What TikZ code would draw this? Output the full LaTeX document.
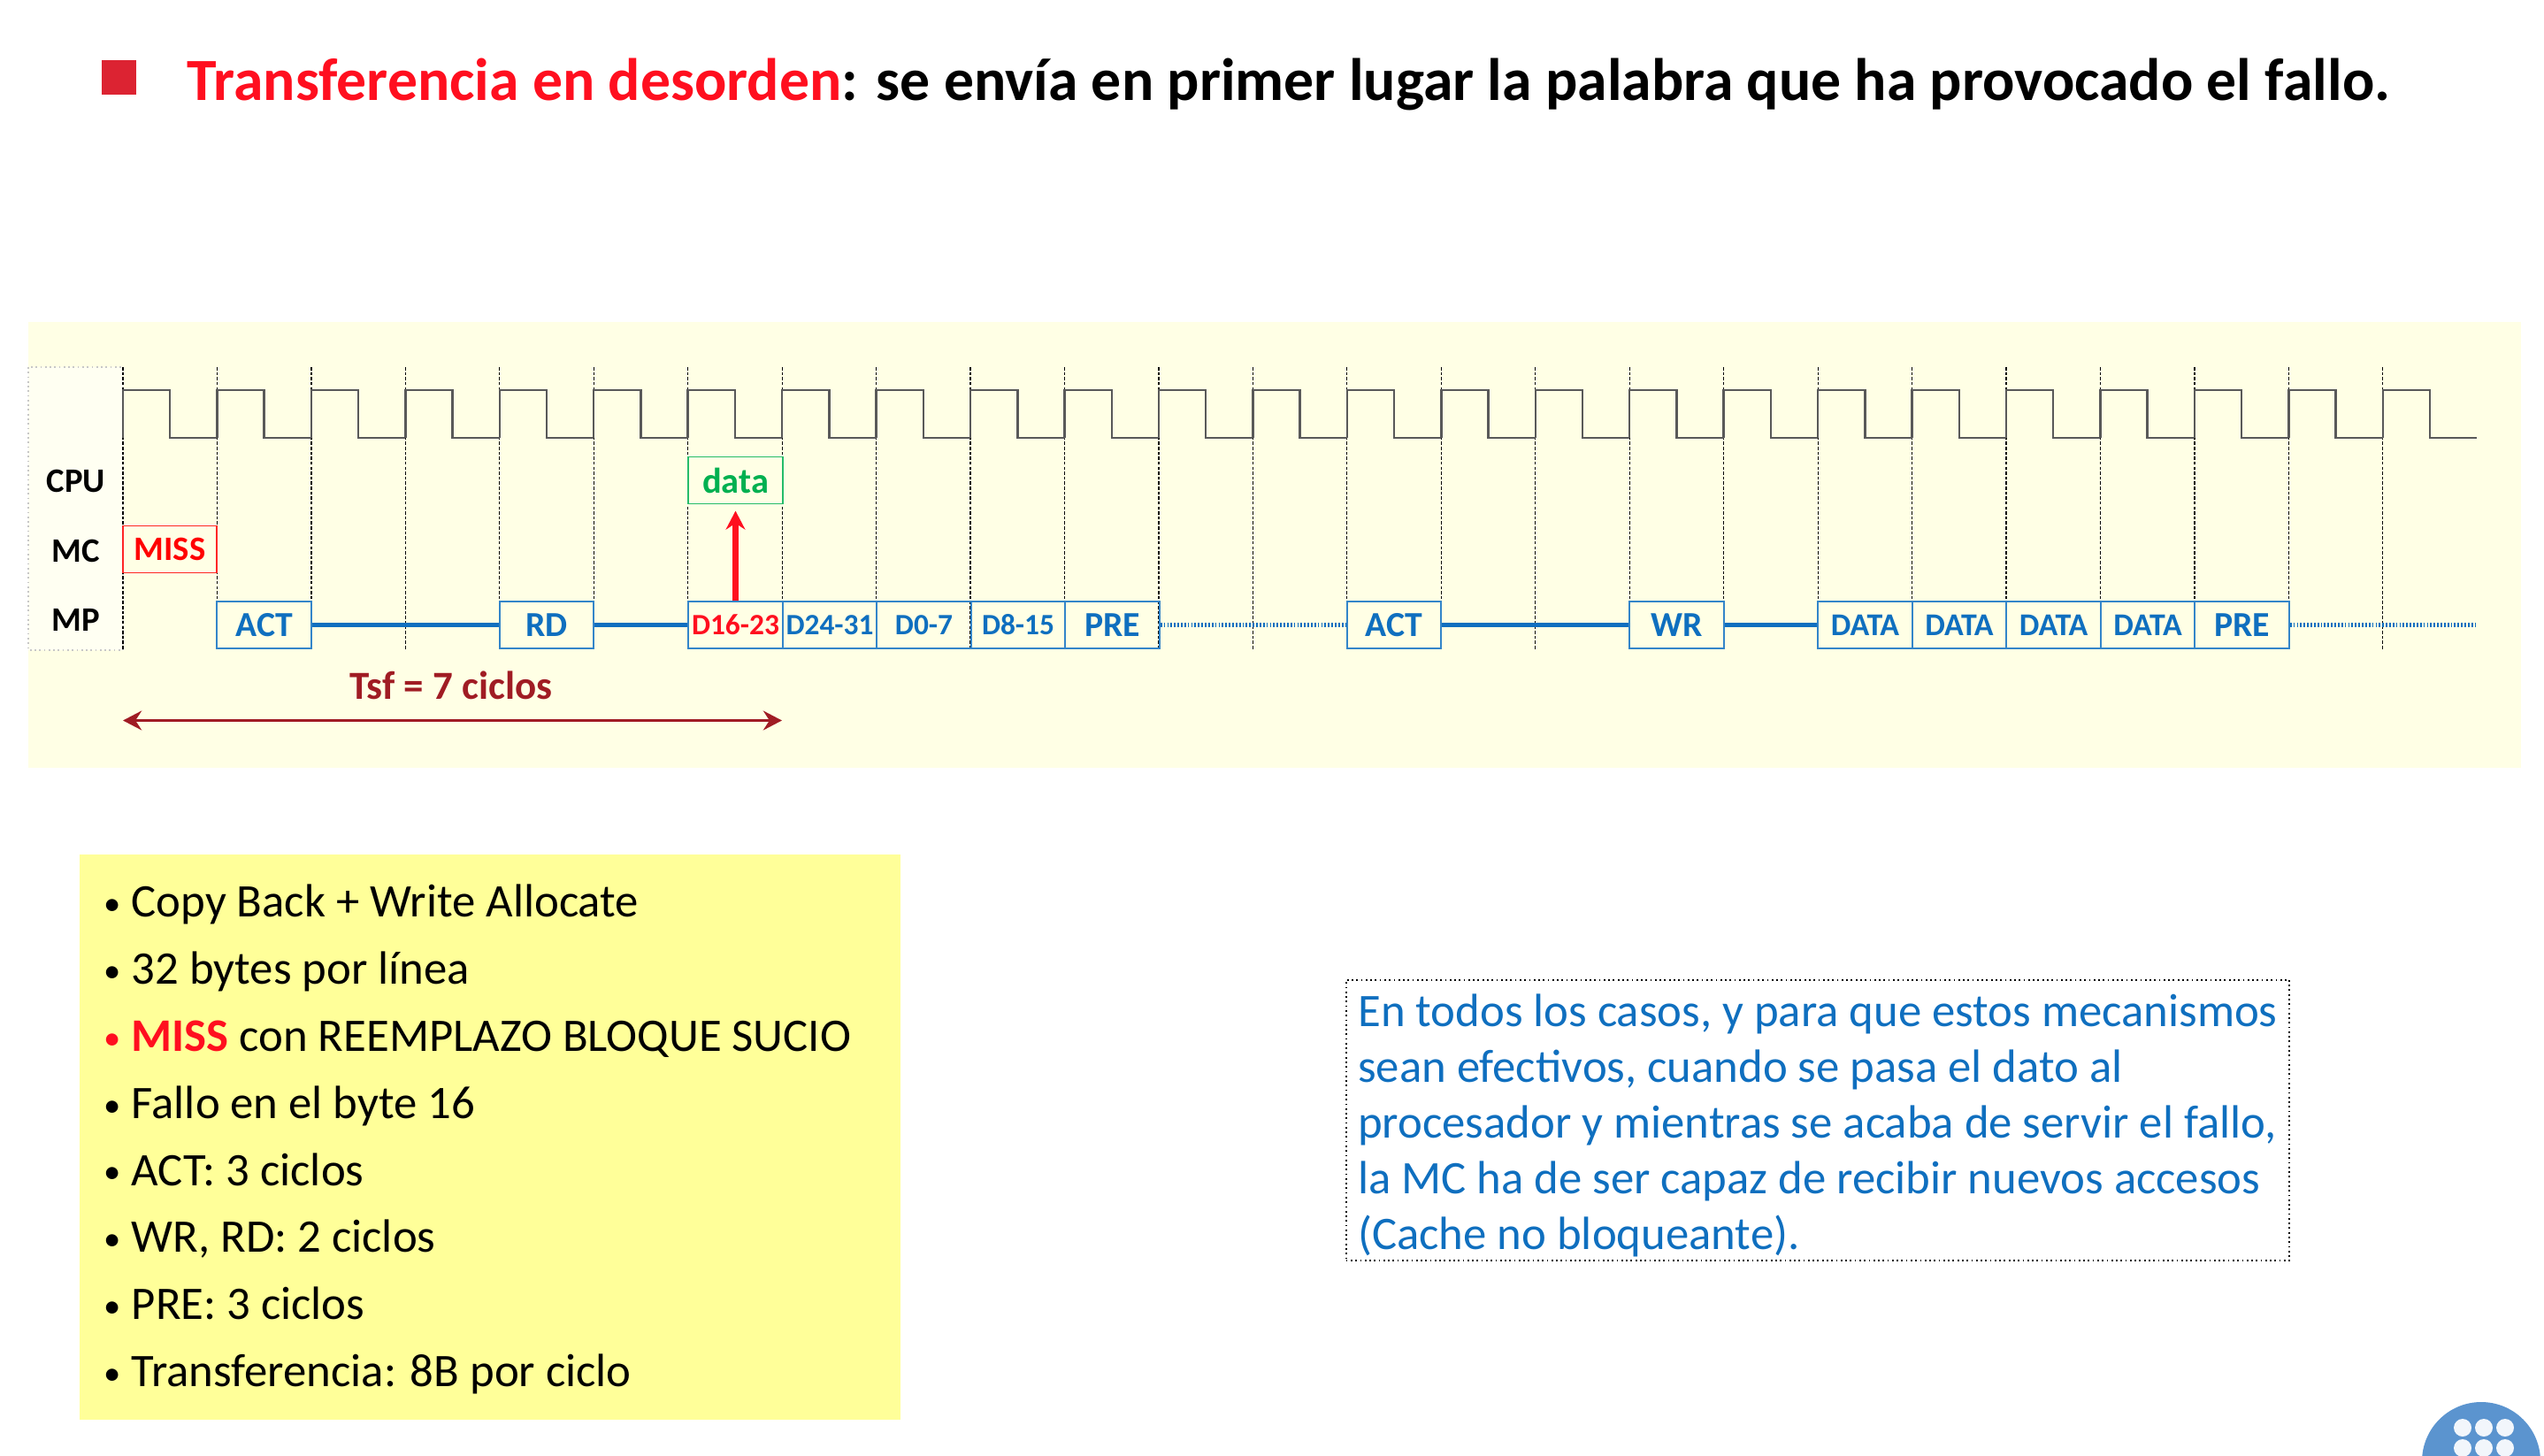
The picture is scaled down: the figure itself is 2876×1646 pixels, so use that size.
\documentclass[tikz,border=0pt]{standalone}
\usepackage{fontspec}
\setmainfont{Carlito}
\usetikzlibrary{arrows.meta}
\definecolor{panel}{HTML}{FFFFE5}
\definecolor{listbg}{HTML}{FFFF99}
\definecolor{mpblue}{HTML}{0F6FBF}
\definecolor{notered}{HTML}{FF0F1F}
\definecolor{tsfred}{HTML}{A01C24}
\definecolor{logoblue}{HTML}{5B94CF}
\definecolor{datagreen}{HTML}{00B050}

\tikzset{
  x=0.01cm, y=-0.01cm, % one unit is one pixel of the slide
  node distance=1.0645cm, % one clock cycle
  >={Stealth[length=6pt,width=6.2pt,inset=2pt]},
  cell/.style={draw, line width=0.55pt, minimum width=1.0645cm, minimum height=0.53cm, inner sep=0pt},
  mpcell/.style={cell, draw=mpblue!85, text=mpblue, font=\fontsize{11.3}{13}\selectfont\bfseries},
  mpdata/.style={mpcell, font=\fontsize{9.5}{11}\selectfont\bfseries},
  mpfill/.style={mpcell, font=\fontsize{10.2}{12}\selectfont\bfseries},
  signal/.style={font=\fontsize{11}{13}\selectfont\bfseries},
  gridline/.style={black, line width=0.35pt, dash pattern=on 1pt off 0.6pt},
  clockline/.style={black!65, line width=0.7pt},
  wait/.style={mpblue, line width=1.3pt},
  idle/.style={mpblue, line width=1.3pt, dash pattern=on 0.5pt off 0.6pt},
}
\newcommand{\itm}[1]{\makebox[0.31cm][l]{\raisebox{0.6pt}{\fontsize{11}{11}\selectfont•}}#1}

\begin{document}
\begin{tikzpicture}
    \useasboundingbox (0,0) rectangle (2876,1646);
    \clip (0,0) rectangle (2876,1646);

    % title
    \node[fill={rgb,255:red,220;green,35;blue,50}, minimum size=0.39cm, inner sep=0pt] (mark) at (134.5,87.5) {};
    \node[anchor=base west, inner sep=0pt, font=\fontsize{19.25}{22}\selectfont\bfseries] (title) at (211,113.5)
        {\textcolor{notered}{Transferencia en desorden}: se envía en primer lugar la palabra que ha provocado el fallo.};

    % timing panel
    \fill[panel] (32,364) rectangle (2850,868);
    \draw[black!22, fill=white!50!panel, line width=0.5pt, densely dotted] (32,415) rectangle (139,735);
    \foreach \k in {0,...,24} {
        \draw[gridline] ({139+106.45*\k},415) -- ({139+106.45*\k},735);
    }
    \foreach \k in {0,...,24} {
        \draw[clockline] ({139+106.45*\k},495) -- ({139+106.45*\k},441)
            -- ({139+106.45*(\k+.5)},441) -- ({139+106.45*(\k+.5)},495) -- ({139+106.45*(\k+1)},495);
    }

    \node[signal] (cpu) at (86,544) {CPU};
    \node[signal] (mc) at (86,623) {MC};
    \node[signal] (mp) at (86,701) {MP};

    \node[cell, draw=datagreen!85, text=datagreen, font=\fontsize{11.5}{13}\selectfont\bfseries] (data) at (831.5,543) {data};
    \node[cell, draw=red!85, text=red, font=\fontsize{11}{13}\selectfont\bfseries] (miss) at (192,621) {MISS};

    \node[mpcell] (act1) at (298.7,706.5) {ACT};
    \node[mpcell] (rd) at (618,706.5) {RD};
    \node[mpdata, text=notered] (d1623) at (831.5,706.5) {D16-23};
    \node[mpdata, right of=d1623] (d2431) {D24-31};
    \node[mpdata, right of=d2431] (d07) {D0-7};
    \node[mpdata, right of=d07] (d815) {D8-15};
    \node[mpcell, right of=d815] (pre1) {PRE};
    \node[mpcell] (act2) at (1576,706.5) {ACT};
    \node[mpcell] (wr) at (1895.5,706.5) {WR};
    \node[mpfill] (data1) at (2108.5,706.5) {DATA};
    \node[mpfill, right of=data1] (data2) {DATA};
    \node[mpfill, right of=data2] (data3) {DATA};
    \node[mpfill, right of=data3] (data4) {DATA};
    \node[mpcell, right of=data4] (pre2) {PRE};
    \coordinate (mpend) at (2801,706.5);

    \draw[wait] (act1) -- (rd);
    \draw[wait] (rd) -- (d1623);
    \draw[wait] (act2) -- (wr);
    \draw[wait] (wr) -- (data1);
    \draw[idle] (pre1) -- (act2);
    \draw[idle] (pre2) -- (mpend);
    \draw[->, notered, line width=2pt, shorten >=2pt] (d1623) -- (data);

    % Tsf span
    \coordinate (tsfa) at (139,814.5);
    \coordinate (tsfb) at (884,814.5);
    \draw[<->, tsfred, line width=1.1pt] (tsfa) -- (tsfb);
    \node[text=tsfred, font=\fontsize{12.8}{15}\selectfont\bfseries] (tsf) at (510,775) {Tsf = 7 ciclos};

    % assumptions
    \node[fill=listbg, minimum width=9.28cm, minimum height=6.39cm, text width=8.72cm, align=flush left, inner sep=0.28cm,
          font=\fontsize{15}{21.55}\selectfont] (assume) at (554,1285.5)
        {\rule{0pt}{11.9pt}\itm{Copy Back + Write Allocate}\\
         \itm{32 bytes por línea}\\
         \textcolor{notered}{\itm{\textbf{MISS}}} con REEMPLAZO BLOQUE SUCIO\\
         \itm{Fallo en el byte 16}\\
         \itm{ACT: 3 ciclos}\\
         \itm{WR, RD: 2 ciclos}\\
         \itm{PRE: 3 ciclos}\\
         \itm{Transferencia: 8B por ciclo}};

    % note
    \node[draw, line width=0.5pt, densely dotted, minimum width=10.66cm, minimum height=3.17cm,
          inner xsep=0.1cm, inner ysep=0pt, align=flush left, text=mpblue, font=\fontsize{15}{17.9}\selectfont] (note) at (2055,1266.5)
        {\rule{0pt}{14pt}En todos los casos, y para que estos mecanismos\\
         sean efectivos, cuando se pasa el dato al\\
         procesador y mientras se acaba de servir el fallo,\\
         la MC ha de ser capaz de recibir nuevos accesos\\
         (Cache no bloqueante).};

    % logo
    \fill[logoblue] (2805,1652) circle (67);
    \foreach \x in {2784,2808,2832} {
        \foreach \y in {1614,1637} {
            \fill[white!92!logoblue] (\x,\y) circle (10);
        }
    }
\end{tikzpicture}
\end{document}
